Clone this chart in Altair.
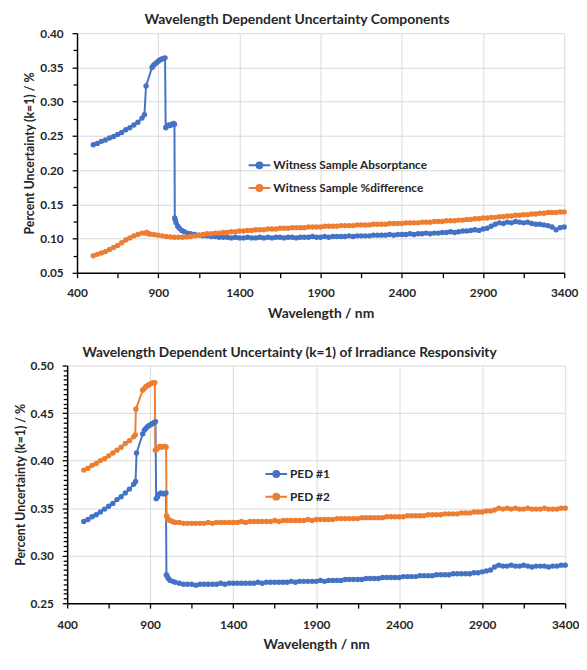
import altair as alt
import pandas as pd

BLUE = "#4472C4"
ORANGE = "#ED7D31"
FONT = "Lato"
TXT = "#262626"

# ---------------- top panel: Wavelength Dependent Uncertainty Components ----------------
top_names = ["Witness Sample Absorptance", "Witness Sample %difference"]

abs_wl_head = [500, 525, 550, 575, 600, 625, 650, 675, 700, 725, 750, 775, 800, 815,
               825,
               862, 870, 880, 890, 900, 910, 920, 930, 942,
               946, 955, 965, 975, 985, 995, 1000,
               1002, 1005, 1010, 1020, 1030, 1045, 1060, 1080]
abs_val_head = [0.237, 0.239, 0.242, 0.244, 0.247, 0.249, 0.252, 0.255, 0.259, 0.262, 0.266, 0.270, 0.276, 0.281,
                0.323,
                0.350, 0.353, 0.355, 0.357, 0.359, 0.361, 0.362, 0.363, 0.364,
                0.262, 0.264, 0.266, 0.265, 0.267, 0.268, 0.267,
                0.130, 0.127, 0.123, 0.118, 0.115, 0.112, 0.110, 0.108]

dif_wl_head = [500, 525, 550, 575, 600, 625, 650, 675, 700, 725, 750, 775, 800,
               820, 830, 840, 850,
               875, 900, 925, 950, 975, 1000, 1025, 1050, 1075]
dif_val_head = [0.075, 0.077, 0.079, 0.081, 0.084, 0.087, 0.090, 0.094, 0.098, 0.101, 0.104, 0.106, 0.108,
                0.108, 0.109, 0.107, 0.1065,
                0.106, 0.105, 0.104, 0.103, 0.1025, 0.102, 0.102, 0.102, 0.1025]

# shared sampling grid of the long flat part (1100 ... 3400 nm, every 25 nm)
tail_wl = list(range(1100, 3401, 25))

abs_val_tail = [
    0.107, 0.106, 0.105, 0.104,   # 1100
    0.104, 0.103, 0.103, 0.102,   # 1200
    0.102, 0.102, 0.101, 0.102,   # 1300
    0.101, 0.101, 0.102, 0.101,   # 1400
    0.101, 0.102, 0.101, 0.102,   # 1500
    0.101, 0.102, 0.102, 0.101,   # 1600
    0.102, 0.102, 0.101, 0.102,   # 1700
    0.102, 0.102, 0.103, 0.102,   # 1800
    0.102, 0.103, 0.102, 0.103,   # 1900
    0.103, 0.103, 0.103, 0.104,   # 2000
    0.103, 0.104, 0.104, 0.104,   # 2100
    0.104, 0.105, 0.105, 0.105,   # 2200
    0.105, 0.106, 0.105, 0.106,   # 2300
    0.106, 0.106, 0.107, 0.106,   # 2400
    0.107, 0.107, 0.108, 0.107,   # 2500
    0.108, 0.108, 0.109, 0.109,   # 2600
    0.110, 0.109, 0.110, 0.111,   # 2700
    0.111, 0.112, 0.113, 0.112,   # 2800
    0.114, 0.115, 0.118, 0.121,   # 2900
    0.123, 0.122, 0.124, 0.123,   # 3000
    0.125, 0.124, 0.123, 0.124,   # 3100
    0.122, 0.121, 0.121, 0.120,   # 3200
    0.119, 0.117, 0.113, 0.116,   # 3300
    0.117]                        # 3400

dif_val_tail = [
    0.103, 0.104, 0.105, 0.106,   # 1100
    0.107, 0.107, 0.108, 0.108,   # 1200
    0.109, 0.109, 0.110, 0.110,   # 1300
    0.111, 0.111, 0.112, 0.112,   # 1400
    0.113, 0.113, 0.113, 0.114,   # 1500
    0.114, 0.114, 0.115, 0.115,   # 1600
    0.115, 0.116, 0.116, 0.116,   # 1700
    0.116, 0.117, 0.117, 0.117,   # 1800
    0.117, 0.118, 0.118, 0.118,   # 1900
    0.118, 0.119, 0.119, 0.119,   # 2000
    0.119, 0.120, 0.120, 0.120,   # 2100
    0.120, 0.121, 0.121, 0.121,   # 2200
    0.121, 0.122, 0.122, 0.122,   # 2300
    0.122, 0.123, 0.123, 0.123,   # 2400
    0.123, 0.124, 0.124, 0.124,   # 2500
    0.125, 0.125, 0.125, 0.126,   # 2600
    0.126, 0.126, 0.127, 0.127,   # 2700
    0.128, 0.128, 0.129, 0.129,   # 2800
    0.130, 0.130, 0.131, 0.131,   # 2900
    0.132, 0.132, 0.133, 0.133,   # 3000
    0.134, 0.134, 0.135, 0.135,   # 3100
    0.136, 0.136, 0.137, 0.137,   # 3200
    0.138, 0.138, 0.138, 0.139,   # 3300
    0.139]                        # 3400

# ---------------- bottom panel: Irradiance Responsivity ----------------
bot_names = ["PED #1", "PED #2"]

p1_wl_head = [500, 525, 550, 575, 600, 625, 650, 675, 700, 725, 750, 775, 800, 812,
              818,
              855, 865, 875, 885, 895, 905, 915, 925, 932,
              936, 945, 955, 965, 975, 985, 995,
              998, 1003, 1010, 1020, 1035, 1050, 1075]
p1_val_head = [0.336, 0.338, 0.341, 0.343, 0.346, 0.349, 0.352, 0.355, 0.359, 0.362, 0.366, 0.370, 0.375, 0.378,
               0.408,
               0.428, 0.432, 0.434, 0.436, 0.437, 0.438, 0.439, 0.440, 0.441,
               0.360, 0.362, 0.365, 0.366, 0.365, 0.365, 0.366,
               0.280, 0.278, 0.276, 0.274, 0.273, 0.272, 0.271]

p2_wl_head = [500, 525, 550, 575, 600, 625, 650, 675, 700, 725, 750, 775, 800, 810,
              814,
              855, 865, 875, 885, 895, 905, 915, 928,
              931, 940, 950, 960, 970, 980, 990, 996,
              999, 1003, 1010, 1020, 1035, 1050, 1075]
p2_val_head = [0.390, 0.392, 0.395, 0.397, 0.400, 0.402, 0.405, 0.408, 0.411, 0.414, 0.418, 0.421, 0.425, 0.427,
               0.454,
               0.474, 0.476, 0.478, 0.479, 0.480, 0.481, 0.482, 0.482,
               0.411, 0.412, 0.414, 0.415, 0.414, 0.415, 0.415, 0.414,
               0.342, 0.340, 0.338, 0.337, 0.336, 0.335, 0.335]

p1_val_tail = [
    0.270, 0.270, 0.270, 0.269,   # 1100
    0.270, 0.270, 0.270, 0.270,   # 1200
    0.270, 0.271, 0.270, 0.271,   # 1300
    0.271, 0.271, 0.271, 0.271,   # 1400
    0.271, 0.271, 0.272, 0.271,   # 1500
    0.272, 0.272, 0.272, 0.272,   # 1600
    0.272, 0.272, 0.273, 0.272,   # 1700
    0.273, 0.273, 0.273, 0.273,   # 1800
    0.273, 0.274, 0.273, 0.274,   # 1900
    0.274, 0.274, 0.274, 0.275,   # 2000
    0.275, 0.275, 0.275, 0.275,   # 2100
    0.276, 0.276, 0.276, 0.276,   # 2200
    0.277, 0.277, 0.277, 0.277,   # 2300
    0.277, 0.278, 0.278, 0.278,   # 2400
    0.278, 0.279, 0.279, 0.279,   # 2500
    0.279, 0.280, 0.280, 0.280,   # 2600
    0.280, 0.281, 0.281, 0.281,   # 2700
    0.281, 0.281, 0.282, 0.282,   # 2800
    0.283, 0.284, 0.285, 0.288,   # 2900
    0.290, 0.289, 0.289, 0.290,   # 3000
    0.289, 0.289, 0.290, 0.289,   # 3100
    0.288, 0.289, 0.289, 0.289,   # 3200
    0.288, 0.289, 0.289, 0.290,   # 3300
    0.290]                        # 3400

p2_val_tail = [
    0.334, 0.334, 0.334, 0.334,   # 1100
    0.334, 0.334, 0.335, 0.334,   # 1200
    0.335, 0.335, 0.335, 0.335,   # 1300
    0.335, 0.335, 0.336, 0.335,   # 1400
    0.336, 0.336, 0.336, 0.336,   # 1500
    0.336, 0.336, 0.337, 0.336,   # 1600
    0.337, 0.337, 0.337, 0.337,   # 1700
    0.337, 0.337, 0.338, 0.337,   # 1800
    0.338, 0.338, 0.338, 0.338,   # 1900
    0.338, 0.339, 0.339, 0.339,   # 2000
    0.339, 0.339, 0.339, 0.340,   # 2100
    0.340, 0.340, 0.340, 0.340,   # 2200
    0.340, 0.341, 0.341, 0.341,   # 2300
    0.341, 0.341, 0.342, 0.342,   # 2400
    0.342, 0.342, 0.342, 0.343,   # 2500
    0.343, 0.343, 0.343, 0.344,   # 2600
    0.344, 0.344, 0.344, 0.345,   # 2700
    0.345, 0.345, 0.346, 0.346,   # 2800
    0.346, 0.347, 0.347, 0.348,   # 2900
    0.350, 0.349, 0.350, 0.349,   # 3000
    0.350, 0.349, 0.349, 0.350,   # 3100
    0.349, 0.349, 0.349, 0.350,   # 3200
    0.349, 0.349, 0.349, 0.350,   # 3300
    0.350]                        # 3400

# axis tick positions
x_ticks = list(range(400, 3401, 250))
top_y_ticks = [round(0.05 + 0.025 * i, 3) for i in range(15)]
bot_y_ticks = [round(0.25 + 0.005 * i, 3) for i in range(51)]


def frame(name, wl, val):
    return pd.DataFrame({"series": name, "wl": wl, "val": val})


top_df = pd.concat([
    frame(top_names[0], abs_wl_head + tail_wl, abs_val_head + abs_val_tail),
    frame(top_names[1], dif_wl_head + tail_wl, dif_val_head + dif_val_tail),
], ignore_index=True)
bot_df = pd.concat([
    frame(bot_names[0], p1_wl_head + tail_wl, p1_val_head + p1_val_tail),
    frame(bot_names[1], p2_wl_head + tail_wl, p2_val_head + p2_val_tail),
], ignore_index=True)

LEG_PATH = ("M-1,0L1,0M-0.27,0a0.27,0.27 0 1,0 0.54,0"
            "a0.27,0.27 0 1,0 -0.54,0Z")

MAJOR_X = "(datum.value - 400) % 500 == 0"


def panel(df, names, ydom, yticks, title, title_size, title_dx, leg_x, leg_y,
          width, height, xlab_pad, xtitle_pad):
    major_y = "abs(datum.value*20 - round(datum.value*20)) < 0.001"
    xenc = alt.X(
        "wl:Q",
        scale=alt.Scale(domain=[400, 3400], nice=False, zero=False),
        axis=alt.Axis(
            title="Wavelength / nm", values=x_ticks, format="d",
            labelExpr=f"{MAJOR_X} ? datum.label : ''",
            gridOpacity={"condition": {"test": MAJOR_X, "value": 1}, "value": 0},
            labelFlush=False, labelOverlap=False, labelPadding=xlab_pad,
            titlePadding=xtitle_pad, titleFontSize=14,
        ),
    )
    yenc = alt.Y(
        "val:Q",
        scale=alt.Scale(domain=ydom, nice=False, zero=False),
        axis=alt.Axis(
            title="Percent Uncertainty (k=1) / %", values=yticks, format=".2f",
            labelExpr=f"{major_y} ? datum.label : ''",
            gridOpacity={"condition": {"test": major_y, "value": 1}, "value": 0},
            tickSize={"condition": {"test": major_y, "value": 5}, "value": 4},
            labelOverlap=False, labelFlush=False, labelPadding=9,
            titlePadding=3, titleFontSize=12.5,
        ),
    )
    color = alt.Color(
        "series:N",
        scale=alt.Scale(domain=names, range=[BLUE, ORANGE]),
        legend=alt.Legend(
            title=None, orient="none", legendX=leg_x, legendY=leg_y,
            symbolType=LEG_PATH, symbolSize=484, symbolStrokeWidth=2,
            labelFont=FONT, labelFontSize=12, labelFontWeight="bold",
            labelColor=TXT, labelOffset=2, rowPadding=4, padding=0,
        ),
    )
    base = alt.Chart(df)
    line = base.mark_line(strokeWidth=2).encode(x=xenc, y=yenc, color=color)
    pts = base.mark_point(filled=True, size=30, opacity=1).encode(
        x=xenc, y=yenc, color=color)
    return alt.layer(line, pts).properties(
        width=width, height=height,
        title=alt.TitleParams(title, font=FONT, fontSize=title_size, fontWeight="bold",
                              color=TXT, anchor="middle", frame="group",
                              dx=title_dx, offset=0),
    )


def indented(panel_chart, gap):
    """Put a 1px empty view before a panel so that its left edge can be shifted."""
    pad = alt.Chart(alt.Data(values=[{"k": 0}])).mark_point(opacity=0).encode(
        x=alt.value(0), y=alt.value(0)).properties(width=1, height=1)
    return alt.hconcat(pad, panel_chart, spacing=gap).resolve_scale(
        color="independent").resolve_legend(color="independent")


top = panel(top_df, top_names, [0.05, 0.40], top_y_ticks,
            "Wavelength Dependent Uncertainty Components", 14.1, -24, 173, 122, 494, 243,
            10, 8)
bottom = panel(bot_df, bot_names, [0.25, 0.50], bot_y_ticks,
               "Wavelength Dependent Uncertainty (k=1) of Irradiance Responsivity", 13.9,
               -27, 200, 98, 505, 241, 12, 7)

chart = alt.concat(indented(top, 10), indented(bottom, 0), columns=1, align="none",
                   spacing=26).resolve_scale(color="independent").properties(
    padding={"left": 0, "right": 0, "top": 0, "bottom": 0}
).configure_view(stroke=None).configure_axis(
    labelFont=FONT, labelFontSize=12, labelFontWeight="bold", labelColor=TXT,
    titleFont=FONT, titleFontWeight="bold", titleColor=TXT,
    domainColor="#000000", domainWidth=1.5, tickColor="#000000", tickWidth=1.3,
    tickSize=5, gridColor="#d9d9d9", gridWidth=1,
)

chart.save("out.html", embed_options={"renderer": "svg", "actions": False})
